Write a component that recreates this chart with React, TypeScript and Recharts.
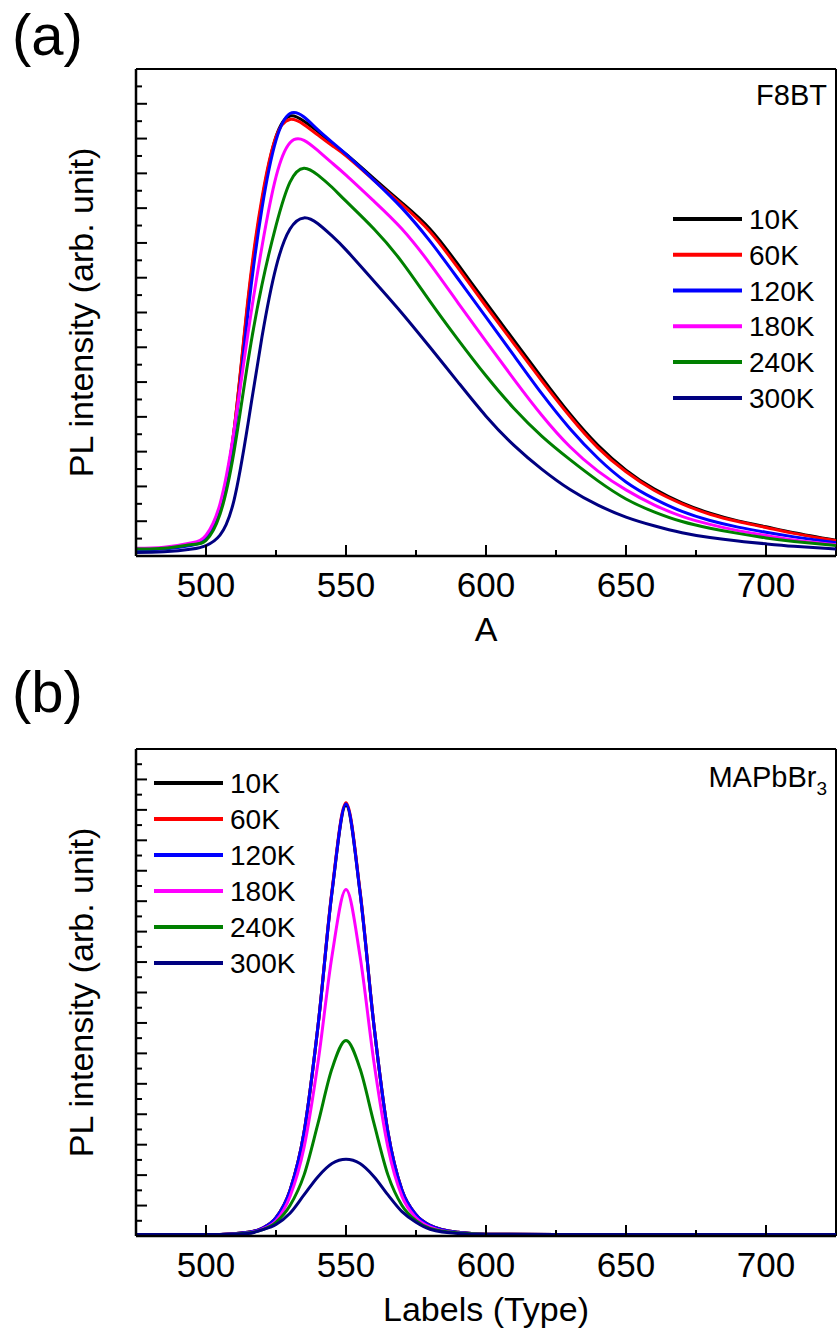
import React from "react";
import { LineChart, Line, XAxis, YAxis, Legend, Label, ReferenceLine } from "recharts";

const FONT = "'Liberation Sans', Arial, Helvetica, sans-serif";

// ---- shared ----
const TEMPS = ["10K", "60K", "120K", "180K", "240K", "300K"];
const KEYS = ["k10", "k60", "k120", "k180", "k240", "k300"];
const COLORS = ["#000000", "#ff0000", "#0000ff", "#ff00ff", "#008000", "#000080"];

const X_TICKS = [500, 525, 550, 575, 600, 625, 650, 675, 700];
const Y_TICKS_A = [0, 0.5, 1, 1.5, 2, 2.5, 3, 3.5, 4, 4.5, 5, 5.5, 6, 6.5, 7, 7.5, 8, 8.5, 9, 9.5, 10, 10.5, 11, 11.5, 12, 12.5, 13, 13.5, 14];
const Y_TICKS_B = [0, 0.5, 1, 1.5, 2, 2.5, 3, 3.5, 4, 4.5, 5, 5.5, 6, 6.5, 7, 7.5, 8, 8.5, 9, 9.5, 10, 10.5, 11, 11.5, 12, 12.5, 13, 13.5, 14, 14.5, 15, 15.5, 16];

// ---- (a) F8BT ----
const WL_A = [475, 485, 495, 500, 505, 510, 515, 520, 525, 530, 535, 540, 545, 550, 560, 570, 580, 590, 600, 610, 620, 630, 640, 650, 660, 670, 680, 690, 700, 710, 725];
const F8BT_10K  = [0.20, 0.22, 0.33, 0.55, 1.40, 3.60, 7.30, 10.20, 12.05, 12.65, 12.50, 12.20, 11.85, 11.55, 10.85, 10.15, 9.40, 8.38, 7.28, 6.20, 5.12, 4.08, 3.18, 2.47, 1.93, 1.53, 1.23, 1.01, 0.84, 0.67, 0.45];
const F8BT_60K  = [0.20, 0.22, 0.33, 0.55, 1.40, 3.60, 7.40, 10.30, 12.05, 12.55, 12.40, 12.10, 11.80, 11.50, 10.80, 10.10, 9.32, 8.28, 7.18, 6.10, 5.03, 4.01, 3.11, 2.42, 1.89, 1.50, 1.20, 0.99, 0.82, 0.65, 0.44];
const F8BT_120K = [0.18, 0.20, 0.31, 0.50, 1.30, 3.40, 7.00, 10.00, 11.95, 12.72, 12.62, 12.25, 11.90, 11.55, 10.80, 10.00, 9.05, 7.97, 6.87, 5.76, 4.66, 3.66, 2.81, 2.13, 1.65, 1.28, 1.02, 0.83, 0.68, 0.55, 0.38];
const F8BT_180K = [0.22, 0.25, 0.38, 0.60, 1.50, 3.60, 6.40, 8.90, 10.90, 11.88, 11.95, 11.65, 11.30, 10.95, 10.20, 9.40, 8.40, 7.28, 6.17, 5.08, 4.04, 3.14, 2.44, 1.90, 1.47, 1.14, 0.91, 0.73, 0.59, 0.46, 0.32];
const F8BT_240K = [0.20, 0.22, 0.33, 0.45, 1.20, 3.00, 5.60, 7.80, 9.50, 10.75, 11.15, 10.95, 10.60, 10.20, 9.40, 8.45, 7.32, 6.22, 5.18, 4.24, 3.44, 2.77, 2.16, 1.64, 1.27, 0.99, 0.80, 0.65, 0.52, 0.42, 0.30];
const F8BT_300K = [0.10, 0.12, 0.20, 0.30, 0.60, 1.60, 3.80, 6.30, 8.30, 9.40, 9.72, 9.55, 9.20, 8.80, 7.90, 6.98, 6.00, 5.00, 4.02, 3.18, 2.49, 1.91, 1.46, 1.12, 0.87, 0.67, 0.53, 0.43, 0.35, 0.28, 0.20];

// ---- (b) MAPbBr3 ----
const WL_B = [475, 490, 505, 515, 520, 525, 530, 535, 540, 545, 550, 555, 560, 565, 570, 575, 580, 590, 600, 625, 650, 675, 700, 725];
const MAPB_10K  = [0.05, 0.05, 0.05, 0.12, 0.25, 0.60, 1.50, 3.40, 6.90, 11.30, 14.15, 11.30, 6.90, 3.40, 1.50, 0.70, 0.35, 0.12, 0.06, 0.05, 0.05, 0.05, 0.05, 0.05];
const MAPB_60K  = [0.05, 0.05, 0.05, 0.12, 0.25, 0.60, 1.50, 3.40, 6.90, 11.35, 14.23, 11.35, 6.90, 3.40, 1.50, 0.70, 0.35, 0.12, 0.06, 0.05, 0.05, 0.05, 0.05, 0.05];
const MAPB_120K = [0.05, 0.05, 0.05, 0.12, 0.25, 0.60, 1.50, 3.40, 6.90, 11.30, 14.19, 11.30, 6.90, 3.40, 1.50, 0.70, 0.35, 0.12, 0.06, 0.05, 0.05, 0.05, 0.05, 0.05];
const MAPB_180K = [0.05, 0.05, 0.05, 0.10, 0.22, 0.50, 1.30, 2.90, 5.70, 9.20, 11.38, 9.20, 5.70, 2.90, 1.30, 0.60, 0.30, 0.10, 0.06, 0.05, 0.05, 0.05, 0.05, 0.05];
const MAPB_240K = [0.05, 0.05, 0.05, 0.10, 0.20, 0.45, 1.00, 2.00, 3.70, 5.50, 6.42, 5.50, 3.70, 2.00, 1.00, 0.50, 0.25, 0.10, 0.06, 0.05, 0.05, 0.05, 0.05, 0.05];
const MAPB_300K = [0.05, 0.05, 0.05, 0.08, 0.20, 0.38, 0.75, 1.35, 1.95, 2.38, 2.52, 2.38, 1.95, 1.35, 0.80, 0.45, 0.22, 0.08, 0.05, 0.05, 0.05, 0.05, 0.05, 0.05];

const SERIES_A = [F8BT_10K, F8BT_60K, F8BT_120K, F8BT_180K, F8BT_240K, F8BT_300K];
const SERIES_B = [MAPB_10K, MAPB_60K, MAPB_120K, MAPB_180K, MAPB_240K, MAPB_300K];

function buildRows(wl: number[], series: number[][]) {
  return wl.map((w, i) => {
    const row: Record<string, number> = { wl: w };
    KEYS.forEach((k, j) => { row[k] = series[j][i]; });
    return row;
  });
}

const dataA = buildRows(WL_A, SERIES_A);
const dataB = buildRows(WL_B, SERIES_B);

function BottomTick(props: any) {
  const { x, y, payload } = props;
  const major = payload.value % 50 === 0;
  return (
    <g>
      <line x1={x} x2={x} y1={y} y2={y - (major ? 11 : 6)} stroke="#000" strokeWidth={2} />
      {major && (
        <text x={x} y={y + 41} textAnchor="middle" fontSize={35} fontFamily={FONT} fill="#000">
          {payload.value}
        </text>
      )}
    </g>
  );
}

function LeftTick(props: any) {
  const { x, y, payload } = props;
  const major = Number.isInteger(payload.value);
  return <line x1={x} x2={x + (major ? 11 : 6)} y1={y} y2={y} stroke="#000" strokeWidth={2} />;
}

// legend rows in series order (10K on top)
function LegendBox({ rowH }: { rowH: number }) {
  return (
    <svg width={170} height={rowH * TEMPS.length + 4} style={{ display: "block" }}>
      {TEMPS.map((t, i) => {
        const cy = rowH / 2 + i * rowH;
        return (
          <g key={t}>
            <line x1={0} x2={69} y1={cy} y2={cy} stroke={COLORS[i]} strokeWidth={4} />
            <text x={76} y={cy + 10} fontSize={28} fontFamily={FONT} fill="#000">{t}</text>
          </g>
        );
      })}
    </svg>
  );
}

interface PanelProps {
  data: Record<string, number>[];
  height: number;
  yMax: number;
  yTicks: number[];
  xTitle: string;
  legendLeft: number;
  legendTop: number;
  rowH: number;
  curve: "monotone" | "natural";
}

const PLOT_BOTTOM = 556;

function Panel({ data, height, yMax, yTicks, xTitle, legendLeft, legendTop, rowH, curve }: PanelProps) {
  return (
    <LineChart width={837} height={height} data={data} margin={{ top: 69, right: 1, bottom: 0, left: 0 }}>
      <XAxis
        dataKey="wl"
        type="number"
        domain={[475, 725]}
        ticks={X_TICKS}
        interval={0}
        tickSize={0}
        tickMargin={0}
        tickLine={false}
        tick={<BottomTick />}
        height={height - PLOT_BOTTOM}
        axisLine={{ stroke: "#000", strokeWidth: 2.5 }}
      >
        <Label
          content={(p: any) => {
            const vb = p.viewBox || { x: 136, y: PLOT_BOTTOM, width: 700 };
            return (
              <text x={vb.x + vb.width / 2} y={vb.y + 85} textAnchor="middle" fontSize={34} fontFamily={FONT} fill="#000">
                {xTitle}
              </text>
            );
          }}
        />
      </XAxis>
      <YAxis
        type="number"
        domain={[0, yMax]}
        ticks={yTicks}
        interval={0}
        tickSize={0}
        tickMargin={0}
        tickLine={false}
        tick={<LeftTick />}
        width={136}
        axisLine={{ stroke: "#000", strokeWidth: 2.5 }}
      >
        <Label
          content={(p: any) => {
            const vb = p.viewBox || { y: 69, height: 487 };
            const cy = vb.y + vb.height / 2;
            return (
              <text
                x={81}
                y={cy}
                dy="0.355em"
                transform={`rotate(-90, 81, ${cy})`}
                textAnchor="middle"
                fontSize={34}
                fontFamily={FONT}
                fill="#000"
              >
                PL intensity (arb. unit)
              </text>
            );
          }}
        />
      </YAxis>
      {/* box frame: top and right edges */}
      <ReferenceLine y={yMax} stroke="#000" strokeWidth={2} />
      <ReferenceLine x={725} stroke="#000" strokeWidth={2} />
      <Legend
        layout="vertical"
        align="center"
        verticalAlign="middle"
        wrapperStyle={{ left: legendLeft, top: legendTop, width: 170 }}
        content={() => <LegendBox rowH={rowH} />}
      />
      {KEYS.map((k, i) => (
        <Line
          key={k}
          type={curve}
          dataKey={k}
          name={TEMPS[i]}
          stroke={COLORS[i]}
          strokeWidth={3}
          dot={false}
          activeDot={false}
          isAnimationActive={false}
        />
      ))}
    </LineChart>
  );
}

export default function App() {
  return (
    <div style={{ position: "absolute", left: 0, top: 0, width: 837, height: 1331, background: "#fff", fontFamily: FONT }}>
      <div style={{ position: "absolute", left: 0, top: 0 }}>
        <Panel data={dataA} height={680} yMax={14} yTicks={Y_TICKS_A} xTitle="A" legendLeft={673} legendTop={201} rowH={35.8} curve="natural" />
      </div>
      <div style={{ position: "absolute", left: 0, top: 680 }}>
        <Panel data={dataB} height={651} yMax={16} yTicks={Y_TICKS_B} xTitle="Labels (Type)" legendLeft={154} legendTop={85} rowH={36} curve="monotone" />
      </div>
      <svg width={837} height={1331} style={{ position: "absolute", left: 0, top: 0, pointerEvents: "none" }}>
        <text x={12} y={55} fontSize={58} fontFamily={FONT} fill="#000">(a)</text>
        <text x={12} y={712} fontSize={58} fontFamily={FONT} fill="#000">(b)</text>
        <text x={827} y={105} textAnchor="end" fontSize={29} fontFamily={FONT} fill="#000">F8BT</text>
        <text x={827} y={787} textAnchor="end" fontSize={29} fontFamily={FONT} fill="#000">
          MAPbBr<tspan fontSize={19} dy={8}>3</tspan>
        </text>
      </svg>
    </div>
  );
}
